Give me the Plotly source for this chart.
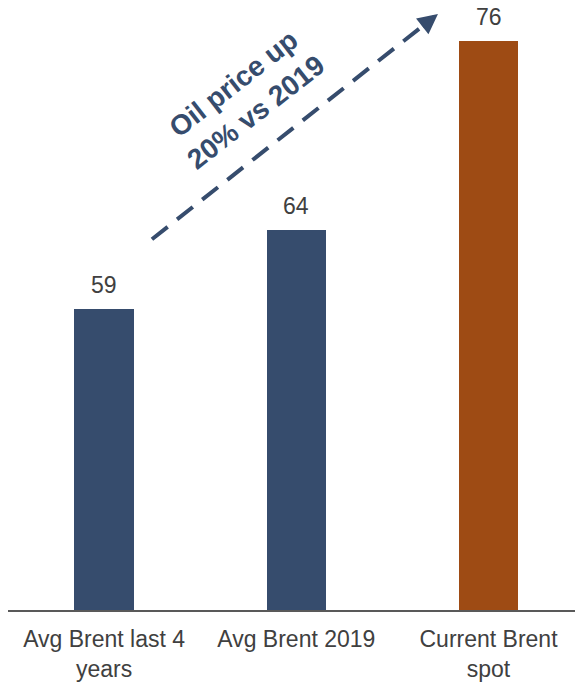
import plotly.graph_objects as go

categories = ["Avg Brent last 4<br>years", "Avg Brent 2019", "Current Brent<br>spot"]
values = [59, 64, 76]
bar_colors = ["#364C6D", "#364C6D", "#9E4B14"]
value_labels = ["59", "64", "76"]

callout_text = "Oil price up<br>20% vs 2019"

NAVY = "#364C6D"
TXT = "#404040"
FONT = "Liberation Sans, Arial, sans-serif"

fig = go.Figure()
fig.add_trace(go.Bar(
    x=[0, 1, 2], y=values, width=0.31,
    marker=dict(color=bar_colors, line=dict(width=0)),
    hoverinfo="skip", showlegend=False,
))

for i, (v, lab) in enumerate(zip(values, value_labels)):
    fig.add_annotation(x=i, y=v, text=lab, showarrow=False, yanchor="bottom",
                       yshift=9, font=dict(family=FONT, size=23, color=TXT))

# dashed trend arrow
x0, y0, x1, y1 = 0.249, 63.44, 1.737, 77.68
fig.add_shape(type="line", xref="x", yref="y", x0=x0, y0=y0, x1=x1 - 0.04, y1=y1 - 0.38,
              line=dict(color=NAVY, width=4, dash="20px,12px"))
fig.add_annotation(x=x1, y=y1, ax=-17, ay=13.4, axref="pixel", ayref="pixel",
                   showarrow=True, arrowhead=2, arrowsize=1.0, arrowwidth=4,
                   arrowcolor=NAVY, text="")
fig.add_annotation(x=0.733, y=72.4, text=callout_text, showarrow=False, textangle=-38,
                   font=dict(family=FONT, size=28, color=NAVY, weight="bold"))

fig.update_layout(
    width=575, height=682,
    margin=dict(l=8, r=0, t=0, b=70),
    plot_bgcolor="white", paper_bgcolor="white",
    xaxis=dict(range=[-0.5, 2.45], tickvals=[0, 1, 2], ticktext=categories,
               showline=True, linecolor="#595959", linewidth=2, ticks="",
               showgrid=False, zeroline=False, ticklabelstandoff=7,
               tickfont=dict(family=FONT, size=23, color=TXT)),
    yaxis=dict(range=[40, 40 + 612 / 15.87], visible=False, showgrid=False),
    bargap=0,
)
fig.update_traces(cliponaxis=False)
fig.write_html("out.html", config={"displayModeBar": False},
               post_script="document.body.style.margin='0';")
